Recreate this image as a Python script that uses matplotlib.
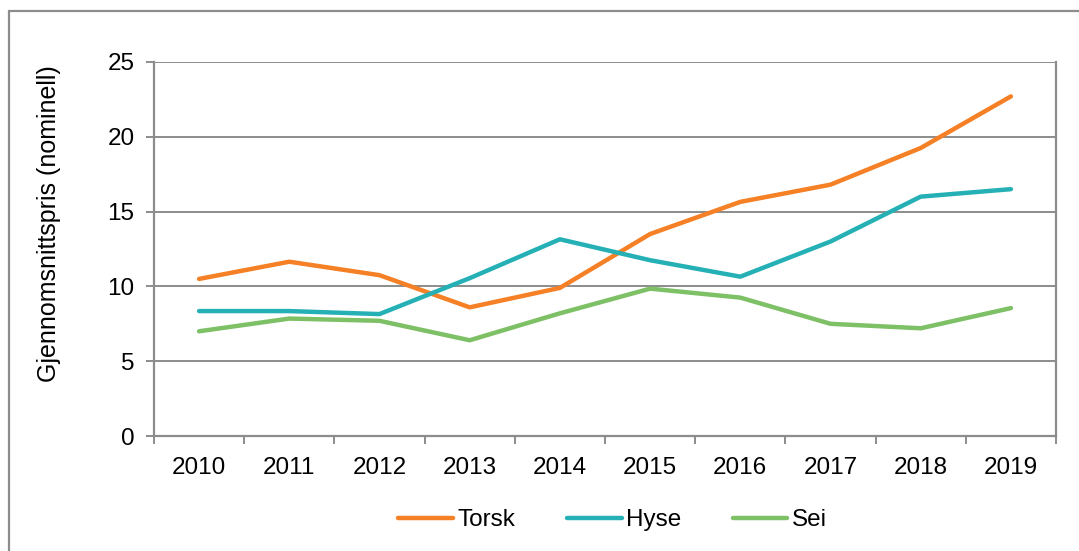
import numpy as np
import matplotlib
matplotlib.use("Agg")
from matplotlib import pyplot as plt
from matplotlib.patches import Rectangle

plt.rcParams['font.family'] = ['Liberation Sans', 'DejaVu Sans']

years = [2010, 2011, 2012, 2013, 2014, 2015, 2016, 2017, 2018, 2019]
torsk = [10.5, 11.65, 10.75, 8.6, 9.9, 13.5, 15.65, 16.8, 19.25, 22.7]
hyse = [8.35, 8.35, 8.15, 10.55, 13.15, 11.75, 10.65, 13.0, 16.0, 16.5]
sei = [7.0, 7.85, 7.7, 6.4, 8.2, 9.85, 9.25, 7.5, 7.2, 8.55]

series_names = ["Torsk", "Hyse", "Sei"]
colors = ["#F58025", "#25B0B5", "#7DC065"]
grey = "#8C8C8C"
fs = 17.5

fig = plt.figure(figsize=(10.79, 5.51), dpi=100)
ax = fig.add_axes([0.1427, 0.2087, 0.8360, 0.6788])

x = np.arange(len(years))
for vals, name, c in zip([torsk, hyse, sei], series_names, colors):
    ax.plot(x, vals, color=c, lw=3.2, label=name, solid_capstyle="round", solid_joinstyle="round")

ax.set_xlim(-0.5, len(years) - 0.5)
ax.set_ylim(0, 25)
ax.set_yticks([0, 5, 10, 15, 20, 25])
ax.yaxis.grid(True, color=grey, lw=1.4)
ax.set_axisbelow(True)

# category ticks between years, labels centred
ax.set_xticks(np.arange(-0.5, len(years), 1.0))
ax.set_xticklabels([])
ax.set_xticks(x, minor=True)
ax.set_xticklabels([str(y) for y in years], minor=True)
ax.tick_params(axis="x", which="major", length=6, width=1.4, color=grey, direction="out")
ax.tick_params(axis="x", which="minor", length=0, pad=15, labelsize=fs)
ax.tick_params(axis="y", length=6, width=1.4, color=grey, labelsize=fs, pad=8)

for side in ["left", "right", "bottom"]:
    ax.spines[side].set_color(grey)
    ax.spines[side].set_linewidth(1.6)
ax.spines["top"].set_visible(False)

ax.set_ylabel("Gjennomsnittspris (nominell)", fontsize=18)
ax.yaxis.set_label_coords(-0.103, 0.568)

leg = fig.legend(loc="center", bbox_to_anchor=(0.568, 0.056), ncol=3, frameon=False,
                 fontsize=fs, handlelength=2.25, columnspacing=2.1, handletextpad=0.2)

# outer chart frame
fig.patches.append(Rectangle((9 / 1079, -0.05), 1.2, (551 - 11) / 551 + 0.05,
                             transform=fig.transFigure, fill=False, edgecolor=grey, lw=1.6))

fig.savefig("out.png", dpi=100)
